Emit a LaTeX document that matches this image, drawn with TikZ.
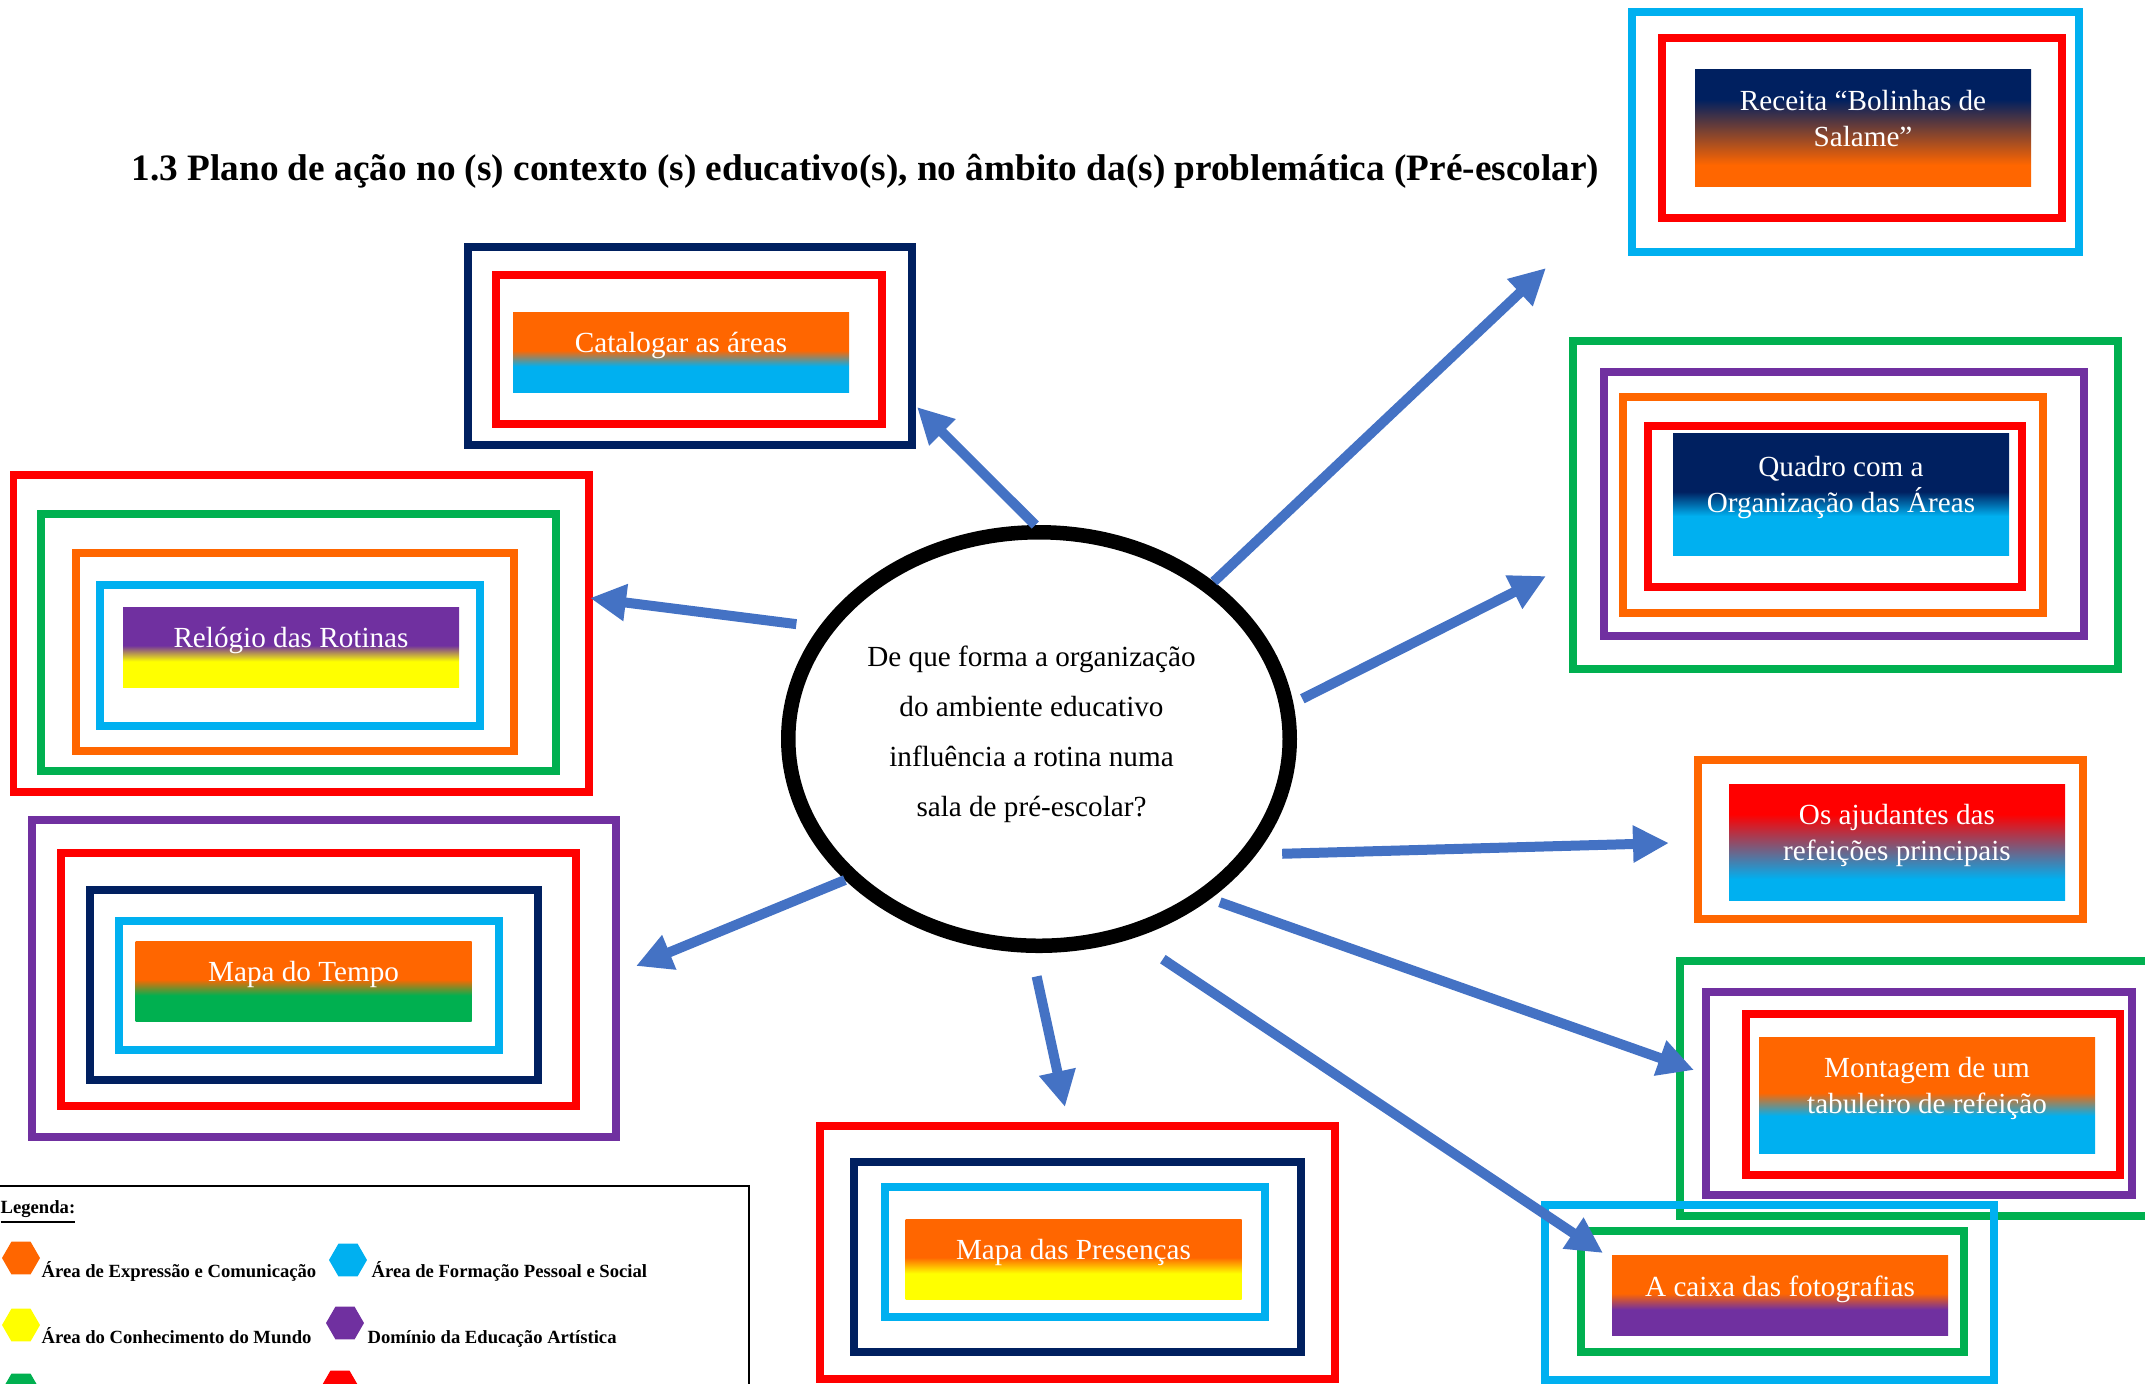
\documentclass[tikz,border=0pt]{standalone}
\usepackage{fontspec}
\setmainfont{Liberation Serif}
\usetikzlibrary{shapes.geometric,arrows.meta}
\definecolor{navy}{HTML}{002060}
\definecolor{vermelho}{HTML}{FF0000}
\definecolor{azul}{HTML}{00B0F0}
\definecolor{laranja}{HTML}{FF6600}
\definecolor{verde}{HTML}{00B050}
\definecolor{roxo}{HTML}{7030A0}
\definecolor{amarelo}{HTML}{FFFF00}
\definecolor{seta}{HTML}{4472C4}
\colorlet{lbltop}{white}
\colorlet{lblbot}{white}
\pgfdeclareverticalshading[lbltop,lblbot]{lblshade}{100bp}{color(0bp)=(lblbot); color(41bp)=(lblbot); color(51bp)=(lbltop); color(100bp)=(lbltop)}
\pgfdeclareverticalshading[lbltop,lblbot]{lblsoft}{100bp}{color(0bp)=(lblbot); color(34bp)=(lblbot); color(62bp)=(lbltop); color(100bp)=(lbltop)}
\tikzset{
  lbl top/.code={\colorlet{lbltop}{#1}},
  lbl bot/.code={\colorlet{lblbot}{#1}}
}
\begin{document}
\begin{tikzpicture}[x=0.1mm,y=-0.1mm]
\tikzstyle{frm}=[line width=0.73mm]
\tikzstyle{lbl}=[shade,shading=lblshade,text=white,inner sep=0pt,minimum width=33.6mm,minimum height=8mm,align=center,text depth=1.85mm,font=\fontsize{8.3}{10.2}\selectfont]
\tikzstyle{arr}=[-{Triangle[length=3.6mm,width=3.5mm]},line width=1mm,seta]
\tikzstyle{hex}=[regular polygon,regular polygon sides=6,minimum size=3.8mm,inner sep=0pt]
\tikzstyle{leg}=[anchor=base west,inner sep=0pt,font=\fontsize{5.3}{6}\selectfont\bfseries]
\useasboundingbox (0,0) rectangle (2145,1383);
\clip (0,0) rectangle (2145,1383);

    \node[anchor=base west,inner sep=0pt,font=\fontsize{10.6}{12}\selectfont\bfseries] (ttl) at (131,180) {1.3 Plano de ação no (s) contexto (s) educativo(s), no âmbito da(s) problemática (Pré-escolar)};

    \draw[frm,navy] (468,247) rectangle (912,445);
    \draw[frm,vermelho] (496,275) rectangle (882,424);
    \draw[frm,azul] (1632,12) rectangle (2079,252);
    \draw[frm,vermelho] (1662,38) rectangle (2062,218);
    \draw[frm,verde] (1573,341) rectangle (2118,669);
    \draw[frm,roxo] (1604,372) rectangle (2084,636);
    \draw[frm,laranja] (1623,397) rectangle (2043,613);
    \draw[frm,vermelho] (1648,426) rectangle (2022,587);
    \draw[frm,vermelho] (13.5,475) rectangle (589,792);
    \draw[frm,verde] (41,514) rectangle (556,771);
    \draw[frm,laranja] (76,553) rectangle (514,751);
    \draw[frm,azul] (100,585) rectangle (480,726);
    \draw[frm,roxo] (32,820) rectangle (616,1137);
    \draw[frm,vermelho] (61,853) rectangle (576,1106);
    \draw[frm,navy] (90,890) rectangle (538,1080);
    \draw[frm,azul] (119,921) rectangle (499,1050);
    \draw[frm,vermelho] (820,1126) rectangle (1335,1379);
    \draw[frm,navy] (854,1162) rectangle (1301,1352);
    \draw[frm,azul] (885,1187) rectangle (1265,1317);
    \draw[frm,laranja] (1698,760) rectangle (2083,919);
    \draw[frm,verde] (1680,961) rectangle (2160,1216);
    \draw[frm,roxo] (1706,992) rectangle (2132,1195);
    \draw[frm,vermelho] (1746,1014) rectangle (2120,1175);
    \draw[frm,azul] (1545,1205) rectangle (1994,1380);
    \draw[frm,verde] (1581,1231) rectangle (1964,1352);

    \node[lbl,lbl top=laranja,lbl bot=azul] (cat) at (681,352) {Catalogar as áreas};
    \node[lbl,shading=lblsoft,lbl top=navy,lbl bot=laranja,minimum height=11.7mm] (rec) at (1863,127.5) {Receita “Bolinhas de\\Salame”};
    \node[lbl,lbl top=navy,lbl bot=azul,minimum height=12.2mm] (qua) at (1841,494) {Quadro com a\\Organização das Áreas};
    \node[lbl,lbl top=roxo,lbl bot=amarelo] (rel) at (291,647) {Relógio das Rotinas};
    \node[lbl,lbl top=laranja,lbl bot=verde] (tem) at (303.5,981) {Mapa do Tempo};
    \node[lbl,lbl top=laranja,lbl bot=amarelo] (pre) at (1073.5,1259) {Mapa das Presenças};
    \node[lbl,shading=lblsoft,lbl top=vermelho,lbl bot=azul,minimum height=11.6mm] (aju) at (1897,842) {Os ajudantes das\\refeições principais};
    \node[lbl,lbl top=laranja,lbl bot=azul,minimum height=11.6mm] (mon) at (1927,1095) {Montagem de um\\tabuleiro de refeição};
    \node[lbl,lbl top=laranja,lbl bot=roxo] (cai) at (1780,1295) {A caixa das fotografias};

    \node[ellipse,draw,line width=1.45mm,fill=white,minimum width=50.15mm,minimum height=41.35mm,inner sep=0pt] (q) at (1039,739) {};
    \node[align=center,inner sep=0pt,font=\fontsize{8.3}{14.2}\selectfont] (qt) at (1031.5,734) {De que forma a organização\\do ambiente educativo\\influência a rotina numa\\sala de pré-escolar?};

    \coordinate (tcat) at (917,407);
    \coordinate (trec) at (1546,268);
    \coordinate (tqua) at (1546,576);
    \coordinate (trel) at (590,598);
    \coordinate (ttem) at (636,966);
    \coordinate (tpre) at (1065,1107);
    \coordinate (taju) at (1669,843);
    \coordinate (tmon) at (1694,1070);
    \coordinate (tcai) at (1603,1253);
    \draw[arr] (q.91) -- (tcat);
    \draw[arr] (q.42) -- (trec);
    \draw[arr,shorten <=1mm] (q.8) -- (tqua);
    \draw[arr,shorten <=2.3mm] (q.153) -- (trel);
    \draw[arr] (q.216) -- (ttem);
    \draw[arr,shorten <=2.4mm] (q.268) -- (tpre);
    \draw[arr,shorten <=2.6mm] (q.332) -- (taju);
    \draw[arr,shorten <=1mm] (q.317) -- (tmon);
    \draw[arr,shorten <=3.7mm] (q.295) -- (tcai);

    \draw[line width=0.2mm] (-10,1186) rectangle (749,1420);
    \node[leg] (legt) at (0,1213) {\underline{Legenda:}};
    \node[hex,fill=laranja] (hexp) at (21,1258) {};
    \node[leg] (lexp) at (41,1277) {Área de Expressão e Comunicação};
    \node[hex,fill=azul] (hfor) at (348,1260) {};
    \node[leg] (lfor) at (371,1277) {Área de Formação Pessoal e Social};
    \node[hex,fill=amarelo] (hcon) at (21,1325) {};
    \node[leg] (lcon) at (41,1343) {Área do Conhecimento do Mundo};
    \node[hex,fill=roxo] (hart) at (345,1323) {};
    \node[leg] (lart) at (367,1343) {Domínio da Educação Artística};
    \node[hex,fill=verde] (hmot) at (21,1390) {};
    \node[hex,fill=vermelho] (hmat) at (340,1387) {};
\end{tikzpicture}
\end{document}
